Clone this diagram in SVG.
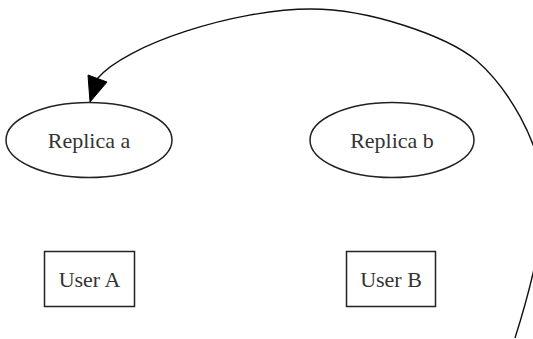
<svg xmlns="http://www.w3.org/2000/svg" width="533" height="339" viewBox="0 0 533 339">
<style>
.shape{fill:none;stroke:#222;stroke-width:1.5}
.lbl{font-family:"Liberation Serif","Times New Roman",serif;font-size:22px;fill:#333;text-anchor:middle}
.edge{fill:none;stroke:#111;stroke-width:1.4}
</style>
<rect width="533" height="339" fill="#fff"/>
<g id="replica_a"><ellipse class="shape" cx="89" cy="140" rx="83" ry="37.5"/><text class="lbl" x="89" y="148">Replica a</text></g>
<g id="replica_b"><ellipse class="shape" cx="392" cy="140" rx="82" ry="37.5"/><text class="lbl" x="392" y="148">Replica b</text></g>
<g id="user_a"><rect class="shape" x="44.5" y="251.5" width="90" height="55"/><text class="lbl" x="89.5" y="287">User A</text></g>
<g id="user_b"><rect class="shape" x="346.5" y="251.5" width="89" height="55"/><text class="lbl" x="391" y="287">User B</text></g>
<g id="connectors">
<path class="edge" d="M515,338 C527,300 546,235 543,190 C540,140 507,87 476,60 C446,36 370,9 311,9 C235,9 125,45 97.5,78.5"/>
<polygon points="90,102 88,75 107,82" fill="#000" stroke="#000" stroke-width="1"/>
</g>
</svg>
